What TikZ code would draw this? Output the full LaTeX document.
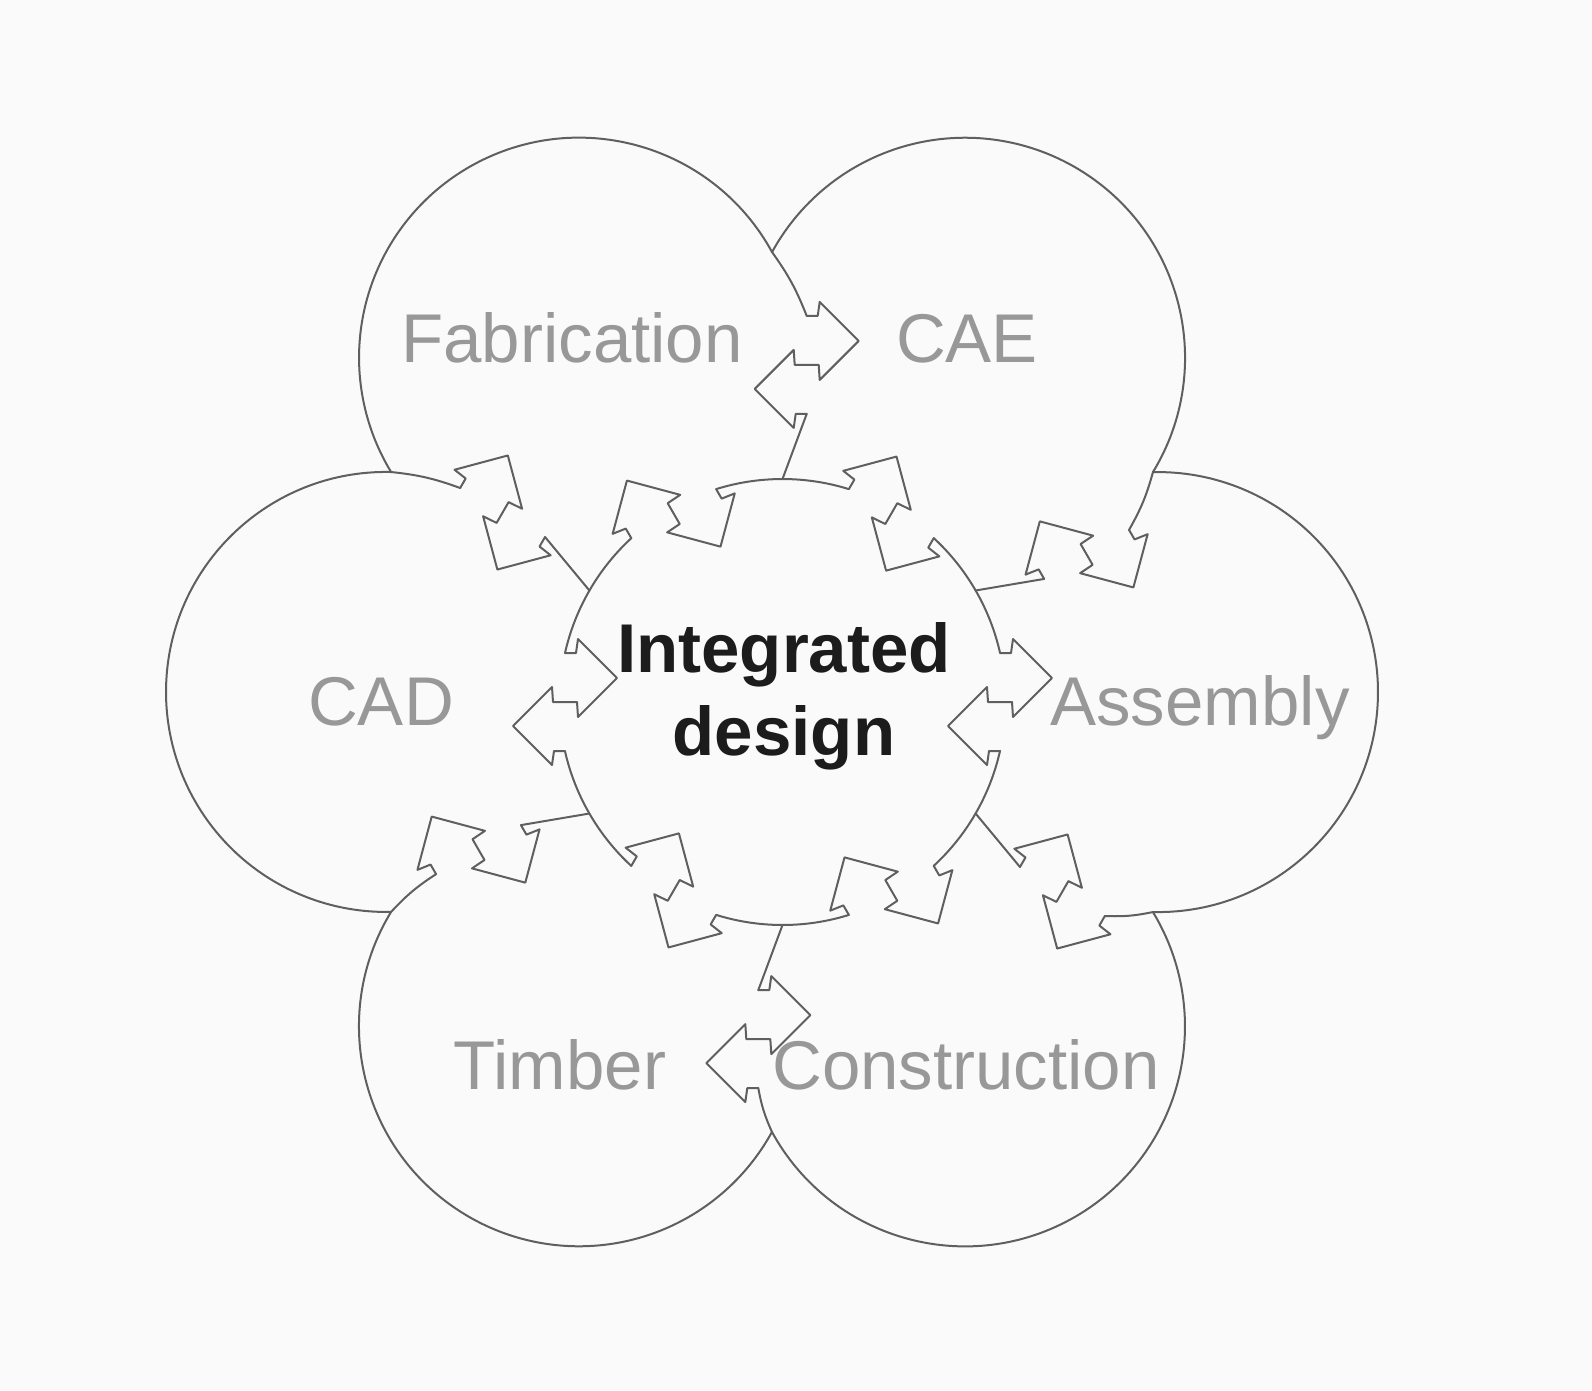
\documentclass[tikz,border=0pt]{standalone}
\usepackage{fontspec}
\setmainfont{Liberation Sans}
\definecolor{linegray}{RGB}{95,95,95}
\definecolor{labelgray}{RGB}{152,152,152}
\definecolor{hubblack}{RGB}{28,28,28}
\definecolor{paper}{RGB}{250,250,250}
\tikzset{
  linktab/.pic={
    \draw (-49,0) -- (-49,11) -- (-63,13) -- (-24,52) -- (15,13) -- (0,12)
      -- (0,-12) -- (-15,-13) -- (24,-52) -- (63,-13) -- (49,-11) -- (49,0);
    \coordinate (-a) at (-49,0);
    \coordinate (-b) at (49,0);
  },
  sublabel/.style={text=labelgray, font=\fontsize{69}{83}\selectfont, anchor=base},
  mainlabel/.style={text=hubblack, font=\bfseries\fontsize{69}{83}\selectfont, align=center},
}
\begin{document}
\begin{tikzpicture}[x=1pt, y=1pt, line width=2pt, line join=round, line cap=round, color=linegray]
\fill[paper] (0,0) rectangle (1592,-1390);
\useasboundingbox (0,0) rectangle (1592,-1390);

% junctions on the rim
\coordinate (jFC) at (772,-252);
\coordinate (jCA) at (1153,-472);
\coordinate (jAS) at (1153,-912);
\coordinate (jST) at (772,-1132);
\coordinate (jTD) at (391,-912);
\coordinate (jFD) at (391,-472);
% junctions on the hub
\coordinate (kFC) at (782.5,-479);
\coordinate (kCA) at (975.6,-590.5);
\coordinate (kAS) at (975.6,-813.5);
\coordinate (kST) at (782.5,-925);
\coordinate (kTD) at (589.4,-813.5);
\coordinate (kFD) at (589.4,-590.5);

% outer rim
\draw (jAS) arc[start angle=-91.3, end angle=91.3, radius=220];
\draw (jCA) arc[start angle=-31.3, end angle=151.3, radius=220];
\draw (jFC) arc[start angle=28.7, end angle=211.3, radius=220];
\draw (jFD) arc[start angle=88.7, end angle=271.3, radius=220];
\draw (jTD) arc[start angle=148.7, end angle=331.3, radius=220];
\draw (jST) arc[start angle=208.7, end angle=391.3, radius=220];

% tabs between neighbours
\pic[rotate=270] (tFC) at (806.7,-364.9) {linktab};
\pic[rotate=210] (tCA) at (1086.6,-554.4) {linktab};
\pic[rotate=150] (tAS) at (1062.4,-891.5) {linktab};
\pic[rotate=90] (tST) at (758.3,-1039.1) {linktab};
\pic[rotate=30] (tTD) at (478.5,-849.6) {linktab};
\pic[rotate=-30] (tFD) at (502.6,-512.5) {linktab};
\draw (jFC) to[bend left=7] (tFC-a); \draw (tFC-b) -- (kFC);
\draw (jCA) to[bend left=7] (tCA-a); \draw (tCA-b) -- (kCA);
\draw (jAS) to[bend left=7] (tAS-a); \draw (tAS-b) -- (kAS);
\draw (jST) to[bend left=7] (tST-a); \draw (tST-b) -- (kST);
\draw (jTD) to[bend left=7] (tTD-a); \draw (tTD-b) -- (kTD);
\draw (jFD) to[bend left=7] (tFD-a); \draw (tFD-b) -- (kFD);

% tabs on the hub
\pic[rotate=30] (tF) at (673.7,-513.6) {linktab};
\pic[rotate=-30] (tC) at (891.3,-513.6) {linktab};
\pic[rotate=-90] (tA) at (1000,-702) {linktab};
\pic[rotate=210] (tS) at (891.3,-890.4) {linktab};
\pic[rotate=150] (tT) at (673.7,-890.4) {linktab};
\pic[rotate=90] (tD) at (565,-702) {linktab};
\draw (tF-b) arc[start angle=107.3, end angle=72.7, radius=223];
\draw (tC-b) arc[start angle=47.3, end angle=12.7, radius=223];
\draw (tA-b) arc[start angle=-12.7, end angle=-47.3, radius=223];
\draw (tS-b) arc[start angle=-72.7, end angle=-107.3, radius=223];
\draw (tT-b) arc[start angle=227.3, end angle=192.7, radius=223];
\draw (tD-b) arc[start angle=167.3, end angle=132.7, radius=223];

% labels
\node[sublabel] (fab) at (572,-362) {Fabrication};
\node[sublabel] (cae) at (967,-362) {CAE};
\node[sublabel] (cad) at (381,-725) {CAD};
\node[sublabel] (asm) at (1200,-725) {Assembly};
\node[sublabel] (tim) at (560,-1089) {Timber};
\node[sublabel] (con) at (966,-1089) {Construction};
\node[mainlabel] (hub) at (784,-696) {Integrated\\design};
\end{tikzpicture}
\end{document}
